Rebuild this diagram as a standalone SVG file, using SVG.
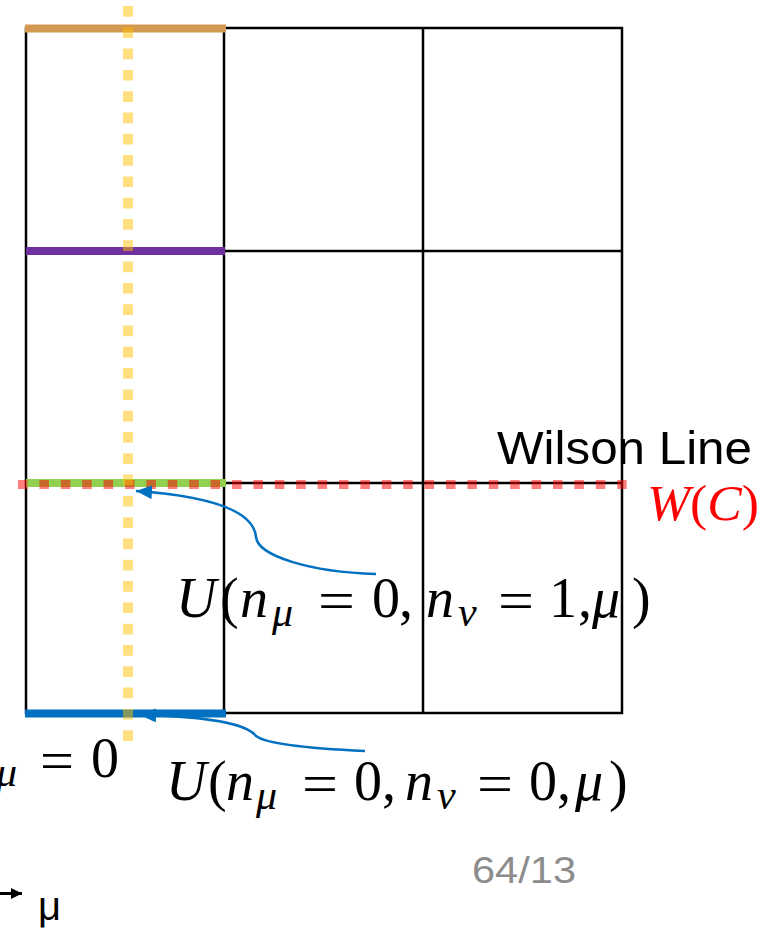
<svg xmlns="http://www.w3.org/2000/svg" width="769" height="929" viewBox="0 0 769 929">
<style>
.grid{stroke:#000;stroke-width:2.5;fill:none}
.edge{stroke-width:8;fill:none}
.math{font-family:"Liberation Serif",serif;fill:#000}
.it{font-style:italic}
.sub{font-size:42px;font-style:italic}
.conn{stroke:#0070C0;stroke-width:2.5;fill:none;marker-end:url(#blueHead)}
</style>
<defs>
<marker id="blueHead" markerUnits="userSpaceOnUse" markerWidth="18" markerHeight="16" refX="16" refY="7" orient="auto">
<path d="M0,0 L16,7 L0,14 Z" fill="#0070C0"/>
</marker>
<marker id="blackHead" markerUnits="userSpaceOnUse" markerWidth="12" markerHeight="12" refX="11" refY="5.5" orient="auto">
<path d="M0,0 L11,5.5 L0,11 Z" fill="#000"/>
</marker>
</defs>
<rect width="769" height="929" fill="#fff"/>

<g id="lattice">
<rect class="grid" x="26" y="28" width="596" height="685"/>
<line class="grid" x1="224" y1="28" x2="224" y2="713"/>
<line class="grid" x1="423" y1="28" x2="423" y2="713"/>
<line class="grid" x1="26" y1="251" x2="622" y2="251"/>
<line class="grid" x1="26" y1="483" x2="622" y2="483"/>
</g>

<g id="link-top">
<line class="edge" x1="25" y1="28.5" x2="226" y2="28.5" stroke="#D39950"/>
</g>
<g id="link-purple">
<line class="edge" x1="26" y1="251" x2="225" y2="251" stroke="#7030A0"/>
</g>
<g id="link-green">
<line class="edge" x1="26" y1="483" x2="226" y2="483" stroke="#92D050"/>
</g>
<g id="link-blue">
<line class="edge" x1="25" y1="713.5" x2="226" y2="713.5" stroke="#0070C0" stroke-width="7"/>
</g>

<g id="wilson-line">
<line x1="18" y1="484.5" x2="630" y2="484.5" stroke="#FF0000" stroke-opacity="0.5" stroke-width="9" stroke-dasharray="9.5 11.9"/>
<text x="497" y="464" font-family="Liberation Sans, sans-serif" font-size="47" textLength="255" lengthAdjust="spacingAndGlyphs" fill="#000">Wilson Line</text>
<text x="647" y="520" font-family="Liberation Serif, serif" font-size="50" fill="#FF0000" textLength="112" lengthAdjust="spacingAndGlyphs"><tspan font-style="italic">W</tspan><tspan>(</tspan><tspan font-style="italic">C</tspan><tspan>)</tspan></text>
</g>

<g id="n-mu-line">
<line x1="128" y1="6" x2="128" y2="743" stroke="#FFC000" stroke-opacity="0.5" stroke-width="10" stroke-dasharray="10.7 10.6"/>
</g>

<g id="connectors">
<path class="conn" d="M376,574 C310,572 258,556 256,537 C254,515 222,497 136,491"/>
<path class="conn" d="M365,751 C320,749 268,745 256,736 C248,726 222,717 140,715"/>
</g>

<g id="label-U1" class="math" font-size="56">
<text class="it" x="176" y="617">U</text>
<text x="220" y="617">(</text>
<text class="it" x="240" y="617">n</text>
<text class="sub" x="272" y="626">μ</text>
<text x="318" y="620" textLength="37" lengthAdjust="spacingAndGlyphs">=</text>
<text x="372" y="617">0</text>
<text x="399" y="617">,</text>
<text class="it" x="426" y="617">n</text>
<text class="sub" x="458" y="626">ν</text>
<text x="498" y="620" textLength="36" lengthAdjust="spacingAndGlyphs">=</text>
<text x="549" y="617">1</text>
<text x="578" y="617">,</text>
<text class="it" x="592" y="617">μ</text>
<text x="632" y="617">)</text>
</g>

<g id="label-U0" class="math" font-size="56">
<text class="it" x="166" y="800">U</text>
<text x="208" y="800">(</text>
<text class="it" x="226" y="800">n</text>
<text class="sub" x="256" y="809">μ</text>
<text x="302" y="803" textLength="36" lengthAdjust="spacingAndGlyphs">=</text>
<text x="354" y="800">0</text>
<text x="382" y="800">,</text>
<text class="it" x="405" y="800">n</text>
<text class="sub" x="437" y="809">ν</text>
<text x="477" y="803" textLength="36" lengthAdjust="spacingAndGlyphs">=</text>
<text x="529" y="800">0</text>
<text x="557" y="800">,</text>
<text class="it" x="575" y="800">μ</text>
<text x="609" y="800">)</text>
</g>

<g id="label-nmu" class="math" font-size="56">
<text class="sub" x="-4" y="786">μ</text>
<text x="40" y="780" textLength="34" lengthAdjust="spacingAndGlyphs">=</text>
<text x="91" y="777">0</text>
</g>

<g id="page-number">
<text x="472" y="883" font-family="Liberation Sans, sans-serif" font-size="36" fill="#8C8C8C" textLength="104" lengthAdjust="spacingAndGlyphs">64/13</text>
</g>

<g id="axis">
<line x1="-5" y1="893.5" x2="22" y2="893.5" stroke="#000" stroke-width="3" marker-end="url(#blackHead)"/>
<text x="38" y="920" font-family="Liberation Sans, sans-serif" font-size="40" fill="#000">μ</text>
</g>
</svg>
